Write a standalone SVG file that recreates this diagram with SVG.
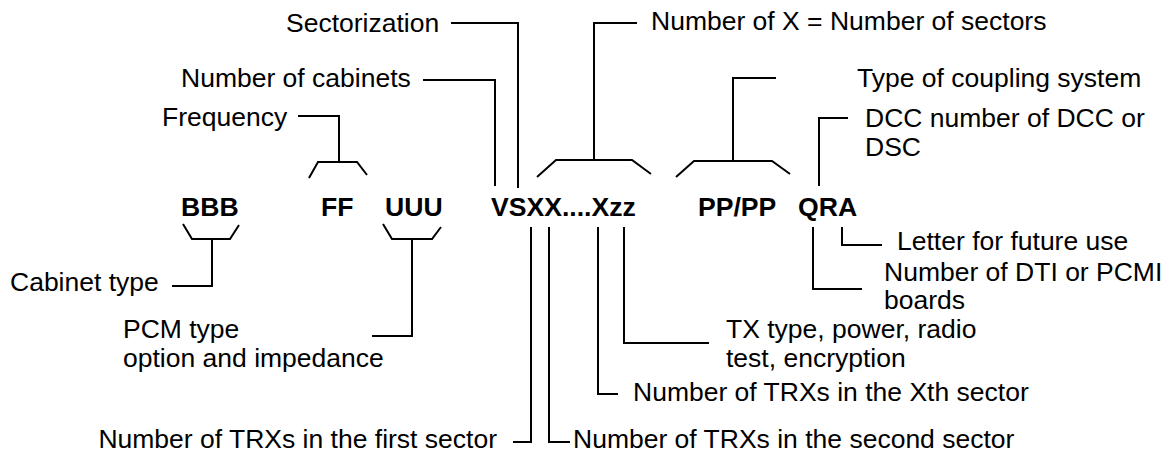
<svg xmlns="http://www.w3.org/2000/svg" width="1174" height="461" viewBox="0 0 1174 461">
<style>
.t{font-family:"Liberation Sans",Arial,sans-serif;font-size:26.5px;fill:#000}
.b{font-family:"Liberation Sans",Arial,sans-serif;font-size:26.6px;font-weight:bold;fill:#000}
.c path{fill:none;stroke:#000;stroke-width:2}
</style>
<rect width="1174" height="461" fill="#fff"/>
<g id="code">
<text class="b" x="181" y="216">BBB</text>
<text class="b" x="321" y="216">FF</text>
<text class="b" x="385" y="216">UUU</text>
<text class="b" x="491" y="216">VSXX....Xzz</text>
<text class="b" x="698" y="216">PP/PP</text>
<text class="b" x="798" y="216">QRA</text>
</g>
<g id="sectorization"><text class="t" x="286" y="32">Sectorization</text></g>
<g id="cabinets"><text class="t" x="181" y="87">Number of cabinets</text></g>
<g id="frequency"><text class="t" x="162" y="126">Frequency</text></g>
<g id="numx"><text class="t" x="651" y="30">Number of X = Number of sectors</text></g>
<g id="coupling"><text class="t" x="857" y="87">Type of coupling system</text></g>
<g id="dcc"><text class="t" x="865" y="127">DCC number of DCC or</text><text class="t" x="865" y="156">DSC</text></g>
<g id="cabtype"><text class="t" x="10" y="291">Cabinet type</text></g>
<g id="pcm"><text class="t" x="123" y="338">PCM type</text><text class="t" x="123" y="367">option and impedance</text></g>
<g id="first"><text class="t" x="497" y="448" text-anchor="end">Number of TRXs in the first sector</text></g>
<g id="second"><text class="t" x="573" y="448">Number of TRXs in the second sector</text></g>
<g id="xth"><text class="t" x="633" y="401">Number of TRXs in the Xth sector</text></g>
<g id="tx"><text class="t" x="726" y="338">TX type, power, radio</text><text class="t" x="726" y="367">test, encryption</text></g>
<g id="dti"><text class="t" x="884" y="281">Number of DTI or PCMI</text><text class="t" x="884" y="309">boards</text></g>
<g id="letter"><text class="t" x="897" y="250">Letter for future use</text></g>
<g id="connectors" class="c">
<path d="M451 23H518V188"/>
<path d="M423 80H495V186"/>
<path d="M298 116H339V162"/>
<path d="M309 178L318 162H357L367 175"/>
<path d="M637 23H594V160"/>
<path d="M537 177L556 160H632L651 174"/>
<path d="M776 78H733V161"/>
<path d="M676 177L694 161H772L790 174"/>
<path d="M848 118H819V186"/>
<path d="M183 224L192 239H230L239 225"/>
<path d="M212 239V286H172"/>
<path d="M383 224L392 239H432L441 227"/>
<path d="M412 239V336H372"/>
<path d="M531 227V442H513"/>
<path d="M549 227V442H570"/>
<path d="M598 227V394H618"/>
<path d="M624 227V343H709"/>
<path d="M813 227V289H862"/>
<path d="M842 227V245H882"/>
</g>
</svg>
